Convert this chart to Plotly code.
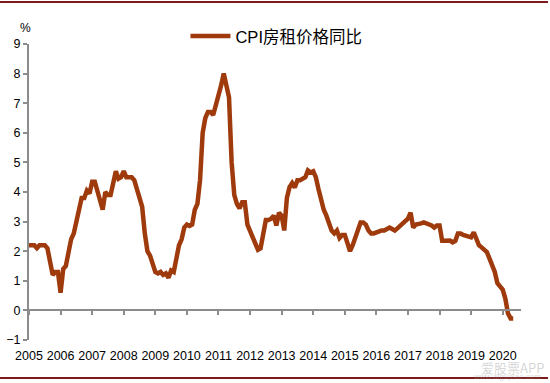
import plotly.graph_objects as go

# Monthly CPI rent price YoY (%), Jan 2005 - May 2020
start_year = 2005
values = [
    # 2005
    2.2, 2.2, 2.2, 2.1, 2.2, 2.2, 2.2, 2.1, 1.6, 1.2, 1.3, 1.3,
    # 2006
    0.6, 1.4, 1.5, 1.9, 2.4, 2.6, 3.0, 3.4, 3.8, 3.8, 4.05, 3.95,
    # 2007
    4.35, 4.35, 4.0, 3.7, 3.4, 4.0, 3.9, 3.9, 4.4, 4.7, 4.45, 4.5,
    # 2008
    4.7, 4.5, 4.5, 4.5, 4.4, 4.1, 3.8, 3.5, 2.6, 2.0, 1.85, 1.5,
    # 2009
    1.3, 1.25, 1.3, 1.2, 1.25, 1.1, 1.35, 1.3, 1.8, 2.2, 2.4, 2.8,
    # 2010
    2.9, 2.85, 2.9, 3.4, 3.6, 4.4, 6.0, 6.5, 6.7, 6.7, 6.6, 6.9,
    # 2011
    7.2, 7.6, 8.0, 7.6, 7.2, 5.0, 3.9, 3.6, 3.45, 3.65, 3.65, 2.9,
    # 2012
    2.7, 2.5, 2.3, 2.05, 2.1, 2.6, 3.05, 3.05, 3.1, 3.2, 2.87, 3.3,
    # 2013
    3.2, 2.7, 3.8, 4.16, 4.3, 4.15, 4.4, 4.4, 4.45, 4.5, 4.73, 4.66,
    # 2014
    4.7, 4.5, 4.1, 3.7, 3.4, 3.2, 2.9, 2.7, 2.6, 2.7, 2.45, 2.55,
    # 2015
    2.55, 2.3, 2.0, 2.2, 2.45, 2.7, 2.97, 2.97, 2.9, 2.7, 2.6, 2.6,
    # 2016
    2.64, 2.65, 2.7, 2.7, 2.77, 2.8, 2.75, 2.7, 2.77, 2.85, 2.9, 2.97,
    # 2017
    3.1, 3.3, 2.8, 2.9, 2.94, 2.94, 2.97, 2.94, 2.9, 2.87, 2.8, 2.87,
    # 2018
    2.87, 2.35, 2.35, 2.36, 2.36, 2.3, 2.35, 2.6, 2.6, 2.55, 2.53, 2.5,
    # 2019
    2.47, 2.64, 2.4, 2.2, 2.13, 2.05, 1.97, 1.75, 1.5, 1.3, 0.92, 0.8,
    # 2020
    0.7, 0.4, -0.1, -0.27, -0.27,
]
months = [start_year + i / 12 for i in range(len(values))]
year_ticks = list(range(2005, 2021))
year_labels = [str(y) for y in year_ticks]
y_ticks = list(range(-1, 10))
series_name = "CPI房租价格同比"

line_color = "#9E3A0B"
axis_color = "#8C8C8C"
font_family = "Liberation Sans, Arial, sans-serif"
x_range = [2005, 2020.58]

fig = go.Figure()
fig.add_trace(go.Scatter(
    x=months, y=values, mode="lines", name=series_name,
    line=dict(color=line_color, width=4.5),
    xaxis="x", yaxis="y",
))
# invisible trace to carry the zero-line axis
fig.add_trace(go.Scatter(
    x=[x_range[0]], y=[0], mode="lines", showlegend=False,
    hoverinfo="skip", line=dict(width=0), xaxis="x2", yaxis="y",
))

fig.update_layout(
    width=550, height=383,
    margin=dict(l=29, r=29, t=44, b=43, autoexpand=False),
    paper_bgcolor="white", plot_bgcolor="white",
    font=dict(family=font_family, size=12.5, color="#000000"),
    showlegend=True,
    legend=dict(
        x=0.318, y=1.085, xanchor="left", yanchor="top",
        bgcolor="rgba(0,0,0,0)",
        font=dict(family="Liberation Sans, Noto Sans CJK SC, sans-serif", size=16.5, color="#000000"),
        itemwidth=40,
    ),
    xaxis=dict(
        range=x_range, tickmode="array", tickvals=year_ticks, ticktext=year_labels,
        showgrid=False, zeroline=False, showline=False,
        ticks="outside", ticklen=4, tickcolor="rgba(0,0,0,0)",
        tickfont=dict(size=12.5, family=font_family, color="#000000"),
    ),
    xaxis2=dict(
        range=x_range, overlaying="x", anchor="free", position=0.1,
        tickmode="array", tickvals=year_ticks, showticklabels=False,
        showgrid=False, zeroline=False, showline=True,
        linecolor=axis_color, linewidth=2,
        ticks="outside", ticklen=4, tickwidth=1.5, tickcolor=axis_color,
    ),
    yaxis=dict(
        range=[-1, 9], tickmode="array", tickvals=y_ticks,
        showgrid=False, zeroline=False, showline=True,
        linecolor=axis_color, linewidth=2,
        ticks="outside", ticklen=4, tickwidth=1.5, tickcolor=axis_color,
        tickfont=dict(size=12.5, family=font_family, color="#000000"),
    ),
    annotations=[
        dict(text="%", xref="paper", yref="paper", x=-0.008, y=1.025,
             xanchor="center", yanchor="bottom", showarrow=False,
             font=dict(size=12, family=font_family, color="#000000")),
        dict(text="爱股票APP", xref="paper", yref="paper", x=1.05, y=-0.055,
             xanchor="right", yanchor="top", showarrow=False,
             font=dict(size=13, family="Noto Sans CJK SC", color="rgba(150,150,150,0.4)")),
        dict(text="www.aigupiao.com", xref="paper", yref="paper", x=1.045, y=-0.1,
             xanchor="right", yanchor="top", showarrow=False,
             font=dict(size=8, family=font_family, color="rgba(150,150,150,0.4)")),
    ],
    shapes=[
        dict(type="line", xref="paper", yref="paper", x0=-29/492, x1=1 + 27/492,
             y0=1 + 42/296, y1=1 + 42/296, line=dict(color="#7A1C1C", width=2)),
        dict(type="line", xref="paper", yref="paper", x0=-29/492, x1=1 + 27/492,
             y0=-38/296, y1=-38/296, line=dict(color="#7A1C1C", width=2)),
    ],
)

fig.write_html(
    "out.html",
    config={"displayModeBar": False},
    post_script="document.body.style.margin='0';document.body.style.padding='0';",
)
